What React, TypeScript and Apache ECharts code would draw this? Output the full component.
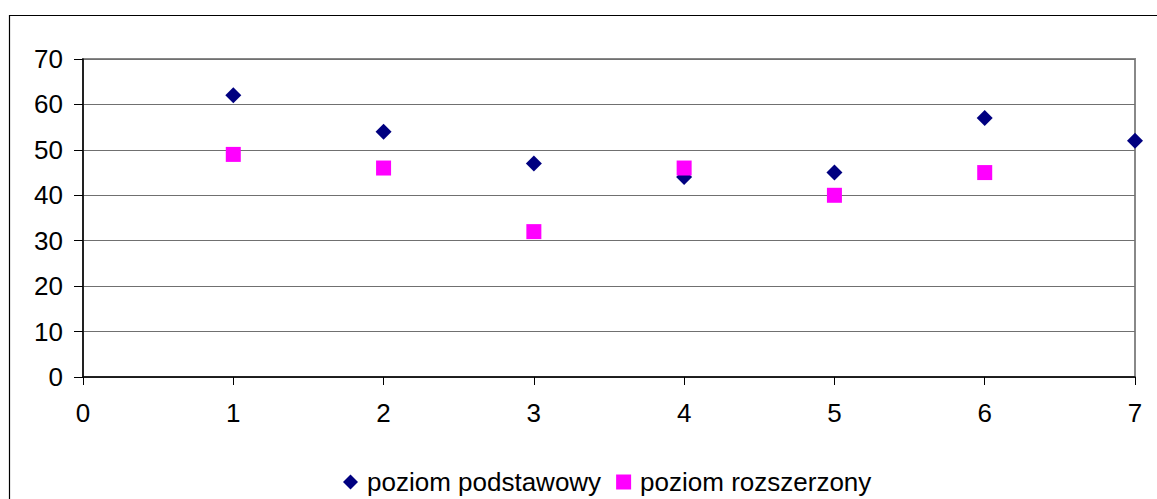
import React, { useEffect, useRef } from "react";
import * as echarts from "echarts";

const xTicks = [0, 1, 2, 3, 4, 5, 6, 7];
const yTicks = [0, 10, 20, 30, 40, 50, 60, 70];
const seriesNames = ["poziom podstawowy", "poziom rozszerzony"];
const podstawowyX = [1, 2, 3, 4, 5, 6, 7];
const podstawowyY = [62, 54, 47, 44, 45, 57, 52];
const rozszerzonyX = [1, 2, 3, 4, 5, 6];
const rozszerzonyY = [49, 46, 32, 46, 40, 45];

const FONT = "'Liberation Sans', Arial, sans-serif";

export default function App() {
  const ref = useRef<HTMLDivElement>(null);
  useEffect(() => {
    if (!ref.current) return;
    const chart = echarts.init(ref.current, null, { renderer: "svg" });
    const p1 = podstawowyX.map((x, i) => [x, podstawowyY[i]]);
    const p2 = rozszerzonyX.map((x, i) => [x, rozszerzonyY[i]]);
    chart.setOption({
      animation: false,
      backgroundColor: "#ffffff",
      textStyle: { fontFamily: FONT },
      graphic: [
        {
          type: "rect",
          shape: { x: 9.5, y: 15.5, width: 1300, height: 700 },
          style: { fill: "none", stroke: "#000000", lineWidth: 1.2 },
          silent: true,
          z: -10,
        },
      ],
      grid: {
        left: 83,
        top: 59,
        width: 1052,
        height: 318,
        show: true,
        borderColor: "#888888",
        borderWidth: 2,
        backgroundColor: "transparent",
      },
      legend: {
        data: [
          { name: seriesNames[0], icon: "diamond" },
          { name: seriesNames[1], icon: "rect" },
        ],
        left: 343,
        top: 469,
        padding: 0,
        itemWidth: 15,
        itemHeight: 15,
        itemGap: 15,
        textStyle: {
          fontFamily: FONT,
          fontSize: 26,
          color: "#000000",
          padding: [0, 0, 0, 4],
        },
      },
      xAxis: {
        type: "value",
        min: xTicks[0],
        max: xTicks[xTicks.length - 1],
        interval: 1,
        axisLine: { show: true, onZero: false, lineStyle: { color: "#000000", width: 1.5 } },
        axisTick: { show: true, inside: false, length: 8, lineStyle: { color: "#000000", width: 1 } },
        axisLabel: {
          show: true,
          margin: 23,
          fontFamily: FONT,
          fontSize: 26,
          color: "#000000",
        },
        splitLine: { show: false },
      },
      yAxis: {
        type: "value",
        min: yTicks[0],
        max: yTicks[yTicks.length - 1],
        interval: 10,
        axisLine: { show: true, onZero: false, lineStyle: { color: "#000000", width: 1.5 } },
        axisTick: { show: true, inside: false, length: 9, lineStyle: { color: "#000000", width: 1 } },
        axisLabel: {
          show: true,
          margin: 20,
          fontFamily: FONT,
          fontSize: 26,
          color: "#000000",
        },
        splitLine: { show: true, lineStyle: { color: "#707070", width: 1 } },
      },
      series: [
        {
          name: seriesNames[0],
          type: "scatter",
          symbol: "diamond",
          symbolSize: [16, 16],
          itemStyle: { color: "#000080", opacity: 1 },
          data: p1,
          z: 3,
        },
        {
          name: seriesNames[1],
          type: "scatter",
          symbol: "rect",
          symbolSize: [15, 15],
          itemStyle: { color: "#FF00FF", opacity: 1 },
          data: p2,
          z: 4,
        },
      ],
    });
    return () => chart.dispose();
  }, []);
  return (
    <div
      ref={ref}
      style={{ position: "fixed", left: 0, top: 0, width: 1157, height: 499 }}
    />
  );
}
